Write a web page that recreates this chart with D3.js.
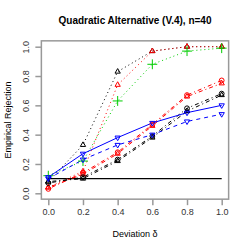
<!DOCTYPE html>
<html lang="en">
<head>
    <meta charset="UTF-8">
    <title>Quadratic Alternative</title>
    <script src="https://d3js.org/d3.v7.min.js"></script>
    <style>
        body { margin: 0; background: #fff; }
        text { font-family: "Liberation Sans", Arial, Helvetica, sans-serif; }
    </style>
</head>
<body>
<div id="chart"></div>
<script>

    // deviation values on the x axis
    var deviation = [0, 0.2, 0.4, 0.6, 0.8, 1.0];
    var xTicks = [0, 0.2, 0.4, 0.6, 0.8, 1.0];
    var yTicks = [0, 0.2, 0.4, 0.6, 0.8, 1.0];
    var nominal = 0.1;

    // rejection rates
    var blackDot = [0.08, 0.33, 0.83, 0.97, 1.00, 1.00];
    var redDot = [0.04, 0.15, 0.74, 0.97, 1.00, 1.00];
    var greenDot = [0.12, 0.22, 0.63, 0.88, 0.97, 0.99];
    var redDashDotA = [0.03, 0.14, 0.28, 0.47, 0.67, 0.77];
    var redDashDotB = [0.04, 0.13, 0.27, 0.46, 0.66, 0.75];
    var blackDashDotA = [0.07, 0.11, 0.23, 0.39, 0.58, 0.68];
    var blackDashDotB = [0.08, 0.10, 0.22, 0.38, 0.56, 0.67];
    var blueSolid = [0.11, 0.27, 0.38, 0.48, 0.55, 0.60];
    var blueDashed = [0.10, 0.23, 0.33, 0.40, 0.49, 0.54];

    var series = [
        {values: blackDot, color: "#000", dash: "1,3", lw: 1, pch: "up"},
        {values: redDot, color: "#ff0000", dash: "1,3", lw: 1, pch: "up"},
        {values: greenDot, color: "#00cd00", dash: "1,3", lw: 1, pch: "plus"},
        {values: redDashDotA, color: "#ff0000", dash: "1,3,4,3", lw: 1, pch: "circle"},
        {values: redDashDotB, color: "#ff0000", dash: "1,3,4,3", lw: 1, pch: "up"},
        {values: blackDashDotA, color: "#000", dash: "1,3,4,3", lw: 1, pch: "circle"},
        {values: blackDashDotB, color: "#000", dash: "1,3,4,3", lw: 1, pch: "up"},
        {values: blueSolid, color: "#0000ff", dash: null, lw: 1, pch: "down"},
        {values: blueDashed, color: "#0000ff", dash: "4,4", lw: 1, pch: "down"}
    ];

    var width = 250, height = 250;

    var svg = d3.select("#chart")
        .append("svg")
        .attr("width", width)
        .attr("height", height);

    var x = d3.scaleLinear().domain([0, 1]).range([48.3, 221.7]);
    var y = d3.scaleLinear().domain([0, 1]).range([193.3, 46.7]);

    // plot box (R style, 4% padding)
    svg.append("rect")
        .attr("x", x(-0.04))
        .attr("y", y(1.04))
        .attr("width", x(1.04) - x(-0.04))
        .attr("height", y(-0.04) - y(1.04))
        .attr("fill", "none")
        .attr("stroke", "#999")
        .attr("stroke-width", 1.5);

    // x axis
    var gx = svg.append("g")
        .attr("transform", "translate(0," + y(-0.04) + ")")
        .call(d3.axisBottom(x).tickValues(xTicks).tickSize(6).tickSizeOuter(0).tickPadding(3)
            .tickFormat(d3.format(".1f")));
    gx.select(".domain").remove();
    gx.selectAll("line").attr("stroke", "#999").attr("stroke-width", 1.5);
    gx.selectAll("text").attr("font-size", 9).attr("fill", "#333").style("font-family", null);

    // y axis with rotated labels
    var gy = svg.append("g")
        .attr("transform", "translate(" + x(-0.04) + ",0)")
        .call(d3.axisLeft(y).tickValues(yTicks).tickSize(6).tickSizeOuter(0)
            .tickFormat(d3.format(".1f")));
    gy.select(".domain").remove();
    gy.selectAll("line").attr("stroke", "#999").attr("stroke-width", 1.5);
    gy.selectAll("text")
        .attr("x", null).attr("dy", null)
        .attr("transform", "translate(-12,0) rotate(-90)")
        .attr("text-anchor", "middle")
        .attr("font-size", 9).attr("fill", "#333").style("font-family", null);

    // nominal level
    svg.append("line")
        .attr("x1", x(0)).attr("x2", x(1))
        .attr("y1", y(nominal)).attr("y2", y(nominal))
        .attr("stroke", "#000")
        .attr("stroke-width", 1.3);

    var line = d3.line()
        .x(function (d, i) { return x(deviation[i]); })
        .y(function (d) { return y(d); });

    svg.selectAll(".series")
        .data(series)
        .enter()
        .append("path")
        .attr("fill", "none")
        .attr("stroke", function (s) { return s.color; })
        .attr("stroke-width", function (s) { return s.lw; })
        .attr("stroke-dasharray", function (s) { return s.dash; })
        .attr("d", function (s) { return line(s.values); });

    var symbols = {
        up: d3.symbol(d3.symbolTriangle2, 20),
        down: d3.symbol(d3.symbolTriangle2, 20),
        circle: d3.symbol(d3.symbolCircle, 18),
        plus: d3.symbol(d3.symbolPlus, 34)
    };

    series.forEach(function (s) {
        svg.selectAll(null)
            .data(s.values)
            .enter()
            .append("path")
            .attr("d", symbols[s.pch])
            .attr("transform", function (d, i) {
                return "translate(" + x(deviation[i]) + "," + y(d) + ")" + (s.pch === "down" ? " rotate(180)" : "");
            })
            .attr("fill", "none")
            .attr("stroke", s.color)
            .attr("stroke-width", 1);
    });

    // titles
    svg.append("text")
        .attr("x", (x(-0.04) + x(1.04)) / 2)
        .attr("y", 24)
        .attr("text-anchor", "middle")
        .attr("font-size", 10)
        .attr("font-weight", "bold")
        .text("Quadratic Alternative (V.4), n=40");

    svg.append("text")
        .attr("x", (x(-0.04) + x(1.04)) / 2)
        .attr("y", 237)
        .attr("text-anchor", "middle")
        .attr("font-size", 9)
        .text("Deviation δ");

    svg.append("text")
        .attr("transform", "translate(11," + (y(-0.04) + y(1.04)) / 2 + ") rotate(-90)")
        .attr("text-anchor", "middle")
        .attr("font-size", 9)
        .text("Empirical Rejection");

</script>
</body>
</html>
